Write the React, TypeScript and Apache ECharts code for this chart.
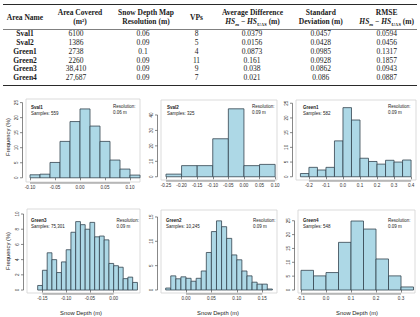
import React, { useEffect, useRef } from 'react';
import * as echarts from 'echarts';

// ---- Summary table ----
const areaNames = ['Sval1', 'Sval2', 'Green1', 'Green2', 'Green3', 'Green4'];
const areaCovered = ['6100', '1386', '2738', '2260', '38,410', '27,687'];
const mapResolution = ['0.06', '0.09', '0.1', '0.09', '0.09', '0.09'];
const vpCounts = ['8', '5', '4', '11', '9', '7'];
const avgDifference = ['0.0379', '0.0156', '0.0873', '0.161', '0.038', '0.021'];
const stdDeviation = ['0.0457', '0.0428', '0.0985', '0.0928', '0.0862', '0.086'];
const rmseValues = ['0.0594', '0.0456', '0.1317', '0.1857', '0.0943', '0.0887'];

// ---- Histograms: bin edges (m) and frequency (%) ----
const sval1Edges = [-0.1, -0.08, -0.06, -0.04, -0.02, 0, 0.02, 0.04, 0.06, 0.08, 0.1, 0.12];
const sval1Freq = [1.0, 1.2, 5.1, 12.1, 18.7, 22.9, 17.2, 12.1, 5.9, 2.9, 0.9];
const sval1XTicks = [-0.1, -0.05, 0, 0.05, 0.1];
const sval1YTicks = [0, 5, 10, 15, 20, 25];

const sval2Edges = [-0.25, -0.2, -0.15, -0.1, -0.05, 0, 0.05, 0.1];
const sval2Freq = [1.7, 7.2, 7.2, 24.6, 44.0, 7.2, 8.0];
const sval2XTicks = [-0.25, -0.2, -0.15, -0.1, -0.05, 0, 0.05, 0.1];
const sval2YTicks = [0, 10, 20, 30, 40];

const green1Edges = [-0.25, -0.2, -0.15, -0.1, -0.05, 0, 0.05, 0.1, 0.15, 0.2, 0.25, 0.3, 0.35, 0.4];
const green1Freq = [1.1, 3.2, 2.3, 3.2, 12.2, 23.5, 19.3, 6.3, 5.2, 4.3, 5.6, 5.0, 5.7];
const green1XTicks = [-0.2, -0.1, 0, 0.1, 0.2, 0.3, 0.4];
const green1YTicks = [0, 5, 10, 15, 20, 25];

const green3Edges = [
  -0.16, -0.15, -0.14, -0.13, -0.12, -0.11, -0.1, -0.09, -0.08, -0.07, -0.06,
  -0.05, -0.04, -0.03, -0.02, -0.01, 0, 0.01, 0.02, 0.03, 0.04, 0.05,
];
const green3Freq = [
  0.6, 2.6, 4.9, 4.0, 2.3, 3.7, 5.3, 7.6, 9.0, 8.6, 8.0,
  8.9, 7.0, 7.1, 6.6, 3.5, 3.2, 3.0, 1.5, 1.7, 1.0,
];
const green3XTicks = [-0.15, -0.1, -0.05, 0];
const green3YTicks = [0, 2, 4, 6, 8, 10];

const green2Edges = [
  -0.04, -0.03, -0.02, -0.01, 0, 0.01, 0.02, 0.03, 0.04, 0.05, 0.06,
  0.07, 0.08, 0.09, 0.1, 0.11, 0.12, 0.13, 0.14, 0.15, 0.16, 0.17,
];
const green2Freq = [
  0.4, 2.9, 2.3, 2.7, 2.4, 1.8, 2.4, 3.9, 7.7, 12.0, 14.2,
  13.0, 10.6, 7.2, 6.2, 3.9, 2.9, 1.6, 1.2, 1.2, 0.2,
];
const green2XTicks = [0, 0.05, 0.1, 0.15];
const green2YTicks = [0, 5, 10, 15];

const green4Edges = [-0.1, -0.05, 0, 0.05, 0.1, 0.15, 0.2, 0.25, 0.3, 0.35];
const green4Freq = [7.1, 5.1, 6.3, 17.2, 24.9, 22.0, 11.2, 5.1, 1.1];
const green4XTicks = [-0.1, 0, 0.1, 0.2, 0.3];
const green4YTicks = [0, 5, 10, 15, 20, 25];

const TABLE_FONT = '"Liberation Serif", "Times New Roman", serif';
const PLOT_FONT = '"Liberation Sans", Arial, Helvetica, sans-serif';
const BAR_FILL = '#add8e6';
const BAR_EDGE = '#34444f';
const AXIS_COLOR = '#555';
const TICK_TEXT = '#333';

const panels = [
  {
    title: 'Sval1', samples: 'Samples: 559', res: '0.06 m',
    edges: sval1Edges, freq: sval1Freq, xTicks: sval1XTicks, yTicks: sval1YTicks, xDec: 2,
    box: { left: 26, top: 99, width: 114, height: 83 }, xRange: [-0.108, 0.12], yRange: [-1.4, 26.2],
    nameAt: [31, 107.5], resAt: [113, 106.5],
  },
  {
    title: 'Sval2', samples: 'Samples: 325', res: '0.09 m',
    edges: sval2Edges, freq: sval2Freq, xTicks: sval2XTicks, yTicks: sval2YTicks, xDec: 2,
    box: { left: 161, top: 100, width: 116, height: 80 }, xRange: [-0.266, 0.106], yRange: [-2.1, 49.7],
    nameAt: [167, 107.5], resAt: [252, 106.5],
  },
  {
    title: 'Green1', samples: 'Samples: 582', res: '0.09 m',
    edges: green1Edges, freq: green1Freq, xTicks: green1XTicks, yTicks: green1YTicks, xDec: 1,
    box: { left: 296, top: 100, width: 120, height: 80 }, xRange: [-0.276, 0.429], yRange: [-1.1, 26.1],
    nameAt: [303, 107.5], resAt: [388, 106.5],
  },
  {
    title: 'Green3', samples: 'Samples: 75,301', res: '0.09 m',
    edges: green3Edges, freq: green3Freq, xTicks: green3XTicks, yTicks: green3YTicks, xDec: 2,
    box: { left: 27, top: 209, width: 113, height: 84 }, xRange: [-0.1825, 0.0554], yRange: [-0.39, 10.66],
    nameAt: [31, 220], resAt: [116.5, 220],
  },
  {
    title: 'Green2', samples: 'Samples: 10,245', res: '0.09 m',
    edges: green2Edges, freq: green2Freq, xTicks: green2XTicks, yTicks: green2YTicks, xDec: 2,
    box: { left: 161, top: 210, width: 116, height: 83 }, xRange: [-0.0492, 0.1791], yRange: [-0.62, 16.43],
    nameAt: [166, 220], resAt: [253, 220],
  },
  {
    title: 'Green4', samples: 'Samples: 548', res: '0.09 m',
    edges: green4Edges, freq: green4Freq, xTicks: green4XTicks, yTicks: green4YTicks, xDec: 1,
    box: { left: 298, top: 210, width: 117, height: 83 }, xRange: [-0.112, 0.356], yRange: [-1.08, 28.88],
    nameAt: [303, 220], resAt: [388, 220],
  },
];

const X_OFFSET = 1;
const Y_OFFSET = 3.5;
const TICK_LEN = 2.5;
const TICK_FONT = 4.6;

function tableElements(): any[] {
  const els: any[] = [];
  const rule = (y: number, w: number) => ({
    type: 'line', shape: { x1: 3, y1: y, x2: 417, y2: y }, style: { stroke: '#2a2a2a', lineWidth: w },
  });
  els.push(rule(4.5, 1), rule(29.5, 0.6), rule(85.5, 1));

  const head = (text: string, x: number, y: number) => ({
    type: 'text', x, y,
    style: {
      text, fontSize: 7.5, fontWeight: 'bold', fontFamily: TABLE_FONT, fill: '#1a1a1a',
      align: 'center', verticalAlign: 'middle',
    },
  });
  const hsDiff = (x: number, y: number) => ({
    type: 'text', x, y,
    style: {
      text: '{i|HS}{s|m}{n| − }{i|HS}{s|UAS}{n| (m)}',
      fontSize: 7.5, fontWeight: 'bold', fontFamily: TABLE_FONT, fill: '#1a1a1a',
      align: 'center', verticalAlign: 'middle',
      rich: {
        i: { fontSize: 7.5, fontStyle: 'italic', fontWeight: 'bold', fontFamily: TABLE_FONT, fill: '#1a1a1a', lineHeight: 10, verticalAlign: 'middle' },
        s: { fontSize: 5, fontStyle: 'italic', fontWeight: 'bold', fontFamily: TABLE_FONT, fill: '#1a1a1a', lineHeight: 10, verticalAlign: 'bottom' },
        n: { fontSize: 7.5, fontWeight: 'bold', fontFamily: TABLE_FONT, fill: '#1a1a1a', lineHeight: 10, verticalAlign: 'middle' },
      },
    },
  });

  els.push(
    head('Area Name', 25, 17),
    head('Area Covered', 80, 12.5),
    head('(m²)', 80, 21.5),
    head('Snow Depth Map', 146, 12.5),
    head('Resolution (m)', 146, 21.5),
    head('VPs', 196.5, 17),
    head('Average Difference', 252.5, 12.5),
    hsDiff(252.5, 21.5),
    head('Standard', 320.8, 12.5),
    head('Deviation (m)', 320.8, 21.5),
    head('RMSE', 386.7, 12.5),
    hsDiff(386.7, 21.5),
  );

  const colX = [25, 76, 143, 196.5, 252, 320.8, 386.7];
  const columns = [areaNames, areaCovered, mapResolution, vpCounts, avgDifference, stdDeviation, rmseValues];
  areaNames.forEach((_, r) => {
    const y = 33.7 + r * 8.8;
    columns.forEach((col, c) => {
      els.push({
        type: 'text', x: colX[c], y,
        style: {
          text: col[r], fontSize: 7.5, fontWeight: c === 0 ? 'bold' : 'normal', fontFamily: TABLE_FONT,
          fill: '#1a1a1a', align: 'center', verticalAlign: 'middle',
        },
      });
    });
  });
  return els;
}

function panelTextElements(): any[] {
  const els: any[] = [];
  const txt = (text: string, x: number, y: number, bold = false, size = 4.5) => ({
    type: 'text', x, y,
    style: {
      text, fontSize: size, fontWeight: bold ? 'bold' : 'normal', fontFamily: PLOT_FONT, fill: '#222',
      align: 'left', verticalAlign: 'middle',
    },
  });
  panels.forEach((p) => {
    els.push(txt(p.title, p.nameAt[0], p.nameAt[1], true));
    els.push(txt(p.samples, p.nameAt[0], p.nameAt[1] + 6));
    els.push(txt('Resolution:', p.resAt[0], p.resAt[1]));
    els.push(txt(p.res, p.resAt[0], p.resAt[1] + 6));
  });
  const axisName = (text: string, x: number, y: number, rotate: boolean) => ({
    type: 'text', x, y, rotation: rotate ? Math.PI / 2 : 0,
    style: {
      text, fontSize: 5.8, fontFamily: PLOT_FONT, fill: '#222', align: 'center', verticalAlign: 'middle',
    },
  });
  els.push(
    axisName('Frequency (%)', 7.5, 137, true),
    axisName('Frequency (%)', 7.5, 251, true),
    axisName('Snow Depth (m)', 81, 313, false),
    axisName('Snow Depth (m)', 218, 313, false),
    axisName('Snow Depth (m)', 357, 313, false),
  );
  return els;
}

function buildOption(): any {
  const grid: any[] = [];
  const xAxis: any[] = [];
  const yAxis: any[] = [];
  const series: any[] = [];

  panels.forEach((p, i) => {
    grid.push({
      ...p.box, show: true, borderColor: '#d2d2d2', borderWidth: 0.8,
      backgroundColor: 'transparent', containLabel: false, outerBoundsMode: 'none',
    });
    xAxis.push({
      gridIndex: i, type: 'value', min: p.xRange[0], max: p.xRange[1], offset: X_OFFSET,
      axisLine: { show: false }, splitLine: { show: false },
      axisTick: { show: true, customValues: p.xTicks, length: TICK_LEN, lineStyle: { color: AXIS_COLOR, width: 0.7 } },
      axisLabel: {
        show: true, customValues: p.xTicks, margin: 2, fontSize: TICK_FONT, color: TICK_TEXT, fontFamily: PLOT_FONT,
        formatter: (v: number) => v.toFixed(p.xDec),
      },
    });
    yAxis.push({
      gridIndex: i, type: 'value', min: p.yRange[0], max: p.yRange[1],
      axisLine: { show: false }, splitLine: { show: false },
      axisTick: { show: false }, axisLabel: { show: false },
    });

    // histogram bars
    series.push({
      type: 'custom', xAxisIndex: i, yAxisIndex: i, silent: true,
      data: p.freq.map((f, k) => [p.edges[k], p.edges[k + 1], f]),
      encode: { x: [0, 1], y: 2 },
      renderItem: (_params: any, api: any) => {
        const a = api.coord([api.value(0), 0]);
        const b = api.coord([api.value(1), api.value(2)]);
        return {
          type: 'rect',
          shape: { x: a[0], y: b[1], width: b[0] - a[0], height: a[1] - b[1] },
          style: { fill: BAR_FILL, stroke: BAR_EDGE, lineWidth: 0.8 },
        };
      },
    });

    // R-style axes: lines from first to last tick, y ticks with rotated labels
    series.push({
      type: 'custom', xAxisIndex: i, yAxisIndex: i, silent: true, clip: false,
      data: [[p.xTicks[0], p.yTicks[0]]],
      renderItem: (params: any, api: any) => {
        const cs = params.coordSys;
        const xa = api.coord([p.xTicks[0], 0])[0];
        const xb = api.coord([p.xTicks[p.xTicks.length - 1], 0])[0];
        const ya = api.coord([0, p.yTicks[0]])[1];
        const yb = api.coord([0, p.yTicks[p.yTicks.length - 1]])[1];
        const by = cs.y + cs.height + X_OFFSET;
        const lx = cs.x - Y_OFFSET;
        const stroke = { stroke: AXIS_COLOR, lineWidth: 0.7 };
        const children: any[] = [
          { type: 'line', shape: { x1: xa, y1: by, x2: xb, y2: by }, style: stroke },
          { type: 'line', shape: { x1: lx, y1: ya, x2: lx, y2: yb }, style: stroke },
        ];
        p.yTicks.forEach((t) => {
          const ty = api.coord([0, t])[1];
          children.push({ type: 'line', shape: { x1: lx, y1: ty, x2: lx - TICK_LEN, y2: ty }, style: stroke });
          children.push({
            type: 'text', x: lx - TICK_LEN - 4, y: ty, rotation: Math.PI / 2,
            style: {
              text: String(t), fontSize: TICK_FONT, fill: TICK_TEXT, fontFamily: PLOT_FONT,
              align: 'center', verticalAlign: 'middle',
            },
          });
        });
        return { type: 'group', children };
      },
    });
  });

  return {
    animation: false,
    backgroundColor: '#ffffff',
    grid, xAxis, yAxis, series,
    graphic: { elements: [...tableElements(), ...panelTextElements()] },
  };
}

export default function App() {
  const ref = useRef<HTMLDivElement>(null);
  useEffect(() => {
    document.body.style.margin = '0';
    if (!ref.current) return;
    const chart = echarts.init(ref.current, undefined, { renderer: 'svg' });
    chart.setOption(buildOption());
    return () => chart.dispose();
  }, []);
  return <div ref={ref} style={{ position: 'absolute', left: 0, top: 0, width: 420, height: 317 }} />;
}
